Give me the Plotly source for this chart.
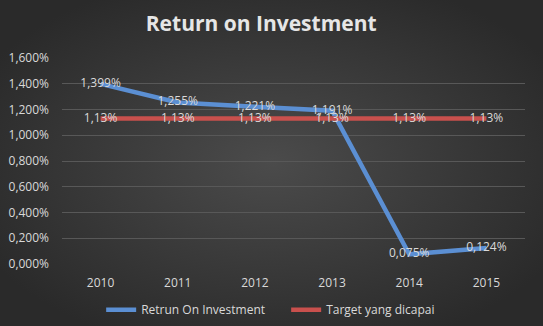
import base64
import plotly.graph_objects as go

years = ["2010", "2011", "2012", "2013", "2014", "2015"]
roi = [1.399, 1.255, 1.221, 1.191, 0.075, 0.124]
target = [1.13, 1.13, 1.13, 1.13, 1.13, 1.13]

roi_text = [f"{v:.3f}".replace(".", ",") + "%" for v in roi]
target_text = [f"{v:.2f}".replace(".", ",") + "%" for v in target]

W, H = 543, 326
ML, MR, MT, MB = 62, 18, 58, 62
PW, PH = W - ML - MR, H - MT - MB

svg = (
    f'<svg xmlns="http://www.w3.org/2000/svg" width="{W}" height="{H}" viewBox="0 0 {W} {H}" preserveAspectRatio="none">'
    '<defs><radialGradient id="g" cx="50%" cy="50%" r="60%">'
    '<stop offset="0%" stop-color="#4b4b4b"/><stop offset="100%" stop-color="#2a2a2a"/>'
    '</radialGradient></defs>'
    f'<rect width="{W}" height="{H}" fill="url(#g)"/></svg>'
)
bg_src = "data:image/svg+xml;base64," + base64.b64encode(svg.encode()).decode()

txt = "#d9d9d9"
fig = go.Figure()
fig.add_trace(go.Scatter(
    x=years, y=roi, mode="lines+text", name="Retrun On Investment",
    line=dict(color="#5b8fd3", width=4.5),
    text=roi_text, textposition="middle center",
    textfont=dict(color=txt, size=12, family="Open Sans"),
))
fig.add_trace(go.Scatter(
    x=years, y=target, mode="lines+text", name="Target yang dicapai",
    line=dict(color="#c9504d", width=4.5),
    text=target_text, textposition="middle center",
    textfont=dict(color=txt, size=12, family="Open Sans"),
))
fig.update_layout(
    width=W, height=H,
    margin=dict(l=ML, r=MR, t=MT, b=MB, autoexpand=False),
    paper_bgcolor="#383838", plot_bgcolor="rgba(0,0,0,0)",
    separators=",.",
    images=[dict(source=bg_src, xref="paper", yref="paper",
                 x=-ML / PW, y=1 + MT / PH, sizex=W / PW, sizey=H / PH,
                 xanchor="left", yanchor="top", sizing="stretch", layer="below")],
    title=dict(text="<b>Return on Investment</b>", x=0.481, xanchor="center",
               y=0.926, yanchor="middle",
               font=dict(color="#e6e6e6", size=21, family="Open Sans")),
    xaxis=dict(type="category", range=[-0.5, 5.5], showgrid=False, showline=False,
               ticks="", ticklabelstandoff=10, automargin=False,
               tickfont=dict(color=txt, size=12, family="Open Sans"), fixedrange=True),
    yaxis=dict(range=[0, 1.6], dtick=0.2, tickformat=".3f", ticksuffix="%",
               gridcolor="#585858", gridwidth=1, zeroline=False, showline=False,
               ticklabelstandoff=12, automargin=False,
               tickfont=dict(color=txt, size=12, family="Open Sans"), fixedrange=True),
    legend=dict(orientation="h", x=0.527, xanchor="center", xref="container",
                y=0.05, yanchor="middle", yref="container",
                font=dict(color=txt, size=12, family="Open Sans"),
                bgcolor="rgba(0,0,0,0)", entrywidth=140, entrywidthmode="pixels"),
    showlegend=True,
)
fig.write_html("out.html")
